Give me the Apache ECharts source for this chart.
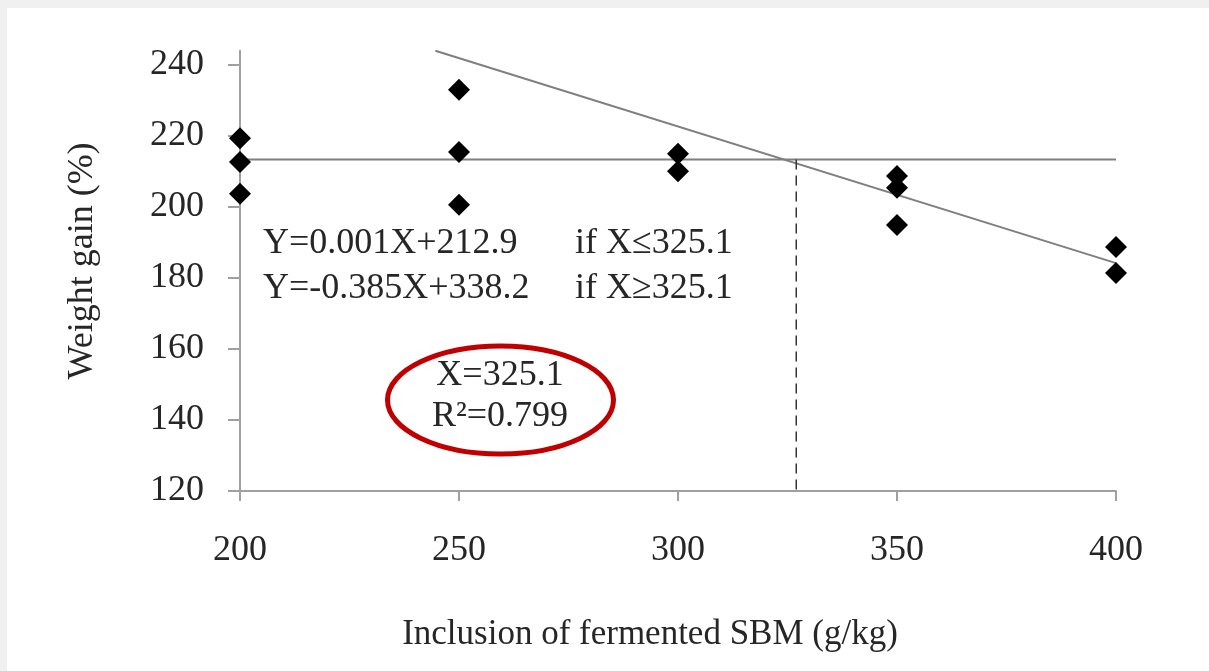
<!DOCTYPE html>
<html>
<head>
<meta charset="utf-8">
<script src="https://cdn.jsdelivr.net/npm/echarts@6/dist/echarts.min.js"></script>
<style>
  html, body { margin: 0; padding: 0; background: #f0f0f0; }
  #chart {
    position: absolute;
    left: 7px;
    top: 8px;
    width: 1202px;
    height: 663px;
    background: #fff;
  }
</style>
</head>
<body>
<div id="chart"></div>
<script>
// observed weight gain (%) per inclusion level of fermented SBM (g/kg)
const points = [
  [200, 219.4], [200, 212.7], [200, 203.7],
  [250, 233.0], [250, 215.5], [250, 200.6],
  [300, 215.0], [300, 210.1],
  [350, 208.7], [350, 205.4], [350, 194.9],
  [400, 188.7], [400, 181.4]
]

// broken-line fit
const plateauLine = [[200, 213.4], [400, 213.4]]
const slopeLine = [[244.6, 244], [400, 184.2]]
const breakLine = [[327, 213.4], [327, 120]]

const yTicks = [120, 140, 160, 180, 200, 220, 240]
const xTicks = [200, 250, 300, 350, 400]

const eqLines = ['Y=0.001X+212.9', 'Y=-0.385X+338.2']
const eqConds = ['if X\u2264325.1', 'if X\u2265325.1']
const statLines = ['X=325.1', 'R\u00b2=0.799']

const serif = 'Liberation Serif, Times New Roman, serif'
const labelColor = '#262626'
const axisColor = '#a0a0a0'

const chart = echarts.init(document.getElementById('chart'), null, { renderer: 'canvas' })

chart.setOption({
  animation: false,
  backgroundColor: '#fff',
  grid: { left: 233, right: 93, top: 42.8, bottom: 180, containLabel: false },
  xAxis: {
    type: 'value',
    min: 200,
    max: 400,
    interval: 50,
    name: 'Inclusion of fermented SBM (g/kg)',
    nameLocation: 'middle',
    nameGap: 126,
    nameTextStyle: { fontFamily: serif, fontSize: 35, color: labelColor, padding: [0, 56, 0, 0] },
    axisLine: { lineStyle: { color: axisColor, width: 2 } },
    axisTick: { show: true, inside: false, length: 10, lineStyle: { color: axisColor, width: 2 }, customValues: xTicks },
    axisLabel: { margin: 42, fontFamily: serif, fontSize: 36, color: labelColor, customValues: xTicks },
    splitLine: { show: false }
  },
  yAxis: {
    type: 'value',
    min: 120,
    max: 244,
    name: 'Weight gain (%)',
    nameLocation: 'middle',
    nameGap: 121,
    nameRotate: 90,
    nameTextStyle: { fontFamily: serif, fontSize: 36, color: labelColor, padding: [0, 0, 18, 20] },
    axisLine: { show: true, lineStyle: { color: axisColor, width: 2 } },
    axisTick: { show: true, inside: false, length: 12, lineStyle: { color: axisColor, width: 2 }, customValues: yTicks },
    axisLabel: { margin: 36, fontFamily: serif, fontSize: 36, color: labelColor, customValues: yTicks },
    splitLine: { show: false }
  },
  series: [
    {
      type: 'line',
      data: plateauLine,
      symbol: 'none',
      clip: false,
      lineStyle: { color: '#7f7f7f', width: 2 },
      z: 1
    },
    {
      type: 'line',
      data: slopeLine,
      symbol: 'none',
      clip: false,
      lineStyle: { color: '#7f7f7f', width: 2 },
      z: 1
    },
    {
      type: 'line',
      data: breakLine,
      symbol: 'none',
      clip: false,
      lineStyle: { color: '#333', width: 1.5, type: [10, 6] },
      z: 1
    },
    {
      type: 'scatter',
      data: points,
      symbol: 'diamond',
      symbolSize: 22,
      itemStyle: { color: '#000', opacity: 1 },
      z: 3
    }
  ],
  graphic: [
    ...eqLines.map((t, i) => ({
      type: 'text',
      x: 256,
      y: 236 + i * 45,
      style: { text: t, font: `36px ${serif}`, fill: labelColor, verticalAlign: 'middle' }
    })),
    ...eqConds.map((t, i) => ({
      type: 'text',
      x: 568,
      y: 236 + i * 45,
      style: { text: t, font: `36px ${serif}`, fill: labelColor, verticalAlign: 'middle' }
    })),
    {
      type: 'ellipse',
      shape: { cx: 493.5, cy: 392, rx: 113, ry: 54 },
      style: { fill: 'none', stroke: '#c00000', lineWidth: 5 }
    },
    ...statLines.map((t, i) => ({
      type: 'text',
      x: 493,
      y: 368 + i * 41,
      style: { text: t, font: `36px ${serif}`, fill: labelColor, align: 'center', verticalAlign: 'middle' }
    }))
  ]
})
</script>
</body>
</html>
